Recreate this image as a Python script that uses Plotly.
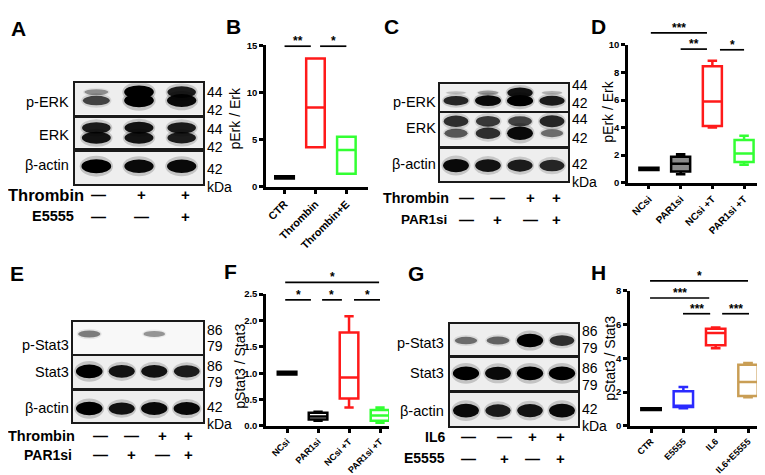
import plotly.graph_objects as go

W, H = 765, 475
FONT = "Arial, Liberation Sans, Helvetica, sans-serif"

# ------------------------------------------------------------------ data
B_cats = ["CTR", "Thrombin", "Thrombin+E"]
B_lower = [0.88, 4.2, 1.4]
B_q1 = [0.88, 4.2, 1.4]
B_median = [1.0, 8.4, 3.9]
B_q3 = [1.12, 13.6, 5.3]
B_upper = [1.12, 13.6, 5.3]

D_cats = ["NCsi", "PAR1si", "NCsi +T", "PAR1si +T"]
D_lower = [0.92, 0.62, 4.0, 1.3]
D_q1 = [0.92, 0.82, 4.12, 1.5]
D_median = [1.0, 1.38, 5.9, 2.12]
D_q3 = [1.08, 1.88, 8.45, 3.1]
D_upper = [1.08, 2.07, 8.85, 3.4]

F_cats = ["NCsi", "PAR1si", "NCsi +T", "PAR1si +T"]
F_lower = [0.975, 0.1, 0.35, 0.06]
F_q1 = [0.975, 0.12, 0.52, 0.1]
F_median = [1.0, 0.18, 0.92, 0.2]
F_q3 = [1.025, 0.25, 1.77, 0.3]
F_upper = [1.025, 0.27, 2.08, 0.35]

H_cats = ["CTR", "E5555", "IL6", "IL6+E5555"]
H_lower = [0.95, 1.05, 4.6, 1.7]
H_q1 = [0.95, 1.12, 4.78, 1.77]
H_median = [1.0, 1.2, 5.5, 2.6]
H_q3 = [1.05, 2.05, 5.75, 3.62]
H_upper = [1.05, 2.3, 5.82, 3.72]

# significance brackets: (from, to, height, label)
B_sig = [(0.0, 0.85, 14.9, "**"), (1.15, 2.0, 14.9, "*")]
D_sig = [(0.06, 1.83, 10.88, "***"), (1.0, 1.83, 9.7, "**"), (2.24, 3.0, 9.65, "*")]
F_sig = [(-0.06, 2.97, 2.72, "*"), (-0.06, 0.77, 2.39, "*"),
         (1.13, 1.77, 2.39, "*"), (2.16, 3.0, 2.39, "*")]
H_sig = [(-0.03, 3.0, 8.58, "*"), (-0.03, 1.8, 7.57, "***"),
         (0.99, 1.83, 6.64, "***"), (2.2, 3.03, 6.64, "***")]

# western blot band intensities (0 = none, 1 = saturated), per lane
A_pERK_44 = [0.3, 1.0, 0.85]
A_pERK_42 = [0.65, 1.0, 0.95]
A_ERK_44 = [0.85, 0.9, 0.85]
A_ERK_42 = [0.9, 0.9, 0.85]
A_actin = [1.0, 0.95, 0.95]
C_pERK_44 = [0.1, 0.25, 0.9, 0.15]
C_pERK_42 = [0.8, 0.95, 1.0, 0.85]
C_ERK_44 = [0.75, 0.7, 0.65, 0.8]
C_ERK_42 = [0.55, 0.75, 0.95, 0.45]
C_actin = [0.95, 0.9, 0.85, 0.8]
E_pStat3 = [0.4, 0.0, 0.3, 0.0]
E_Stat3 = [1.0, 0.9, 0.9, 0.85]
E_actin = [1.0, 0.9, 0.95, 0.95]
G_pStat3 = [0.45, 0.5, 1.0, 0.75]
G_Stat3 = [1.0, 0.95, 1.0, 1.0]
G_actin = [0.95, 0.85, 0.9, 0.95]

A_thrombin = ["—", "+", "+"]
A_e5555 = ["—", "—", "+"]
C_thrombin = ["—", "—", "+", "+"]
C_par1si = ["—", "+", "—", "+"]
E_thrombin = ["—", "—", "+", "+"]
E_par1si = ["—", "+", "—", "+"]
G_il6 = ["—", "—", "+", "+"]
G_e5555 = ["—", "+", "—", "+"]

# ------------------------------------------------------------------ helpers
def PX(x):
    return x / W


def PY(y):
    return 1 - y / H


fig = go.Figure()
annotations = []
shapes = []
layout_axes = {}


def ann(text, x, y, size=13.5, bold=False, xanchor="center", yanchor="middle", angle=0):
    annotations.append(dict(
        text=text, x=PX(x), y=PY(y), xref="paper", yref="paper",
        showarrow=False, xanchor=xanchor, yanchor=yanchor, textangle=angle,
        font=dict(family=FONT, size=size, color="black",
                  weight="bold" if bold else "normal")))


def ax_id(n):
    return "" if n == 1 else str(n)


# ------------------------------------------------------------------ box panels
def box_panel(n, cats, lower, q1, med, q3, upper, colors, fills, sig,
              xpx, ypx, xrange, yrange, yticks, ytickfmt, ytitle, ytitle_pos, xfont):
    xa, ya = "x" + ax_id(n), "y" + ax_id(n)
    for i in range(len(cats)):
        fig.add_trace(go.Box(
            x=[i], q1=[q1[i]], median=[med[i]], q3=[q3[i]],
            lowerfence=[lower[i]], upperfence=[upper[i]],
            width=0.6, whiskerwidth=0.5, boxpoints=False,
            line=dict(color=colors[i], width=2.5), fillcolor=fills[i],
            xaxis=xa, yaxis=ya, showlegend=False, hoverinfo="skip"))

    def fx(v):  # data -> axis-domain fraction (drawn unclipped)
        return (v - xrange[0]) / (xrange[1] - xrange[0])

    def fy(v):
        return (v - yrange[0]) / (yrange[1] - yrange[0])

    for (x0, x1, yv, lab) in sig:
        shapes.append(dict(type="line", xref=xa + " domain", yref=ya + " domain",
                           x0=fx(x0), x1=fx(x1), y0=fy(yv), y1=fy(yv),
                           line=dict(color="black", width=1.7)))
        annotations.append(dict(
            text=lab, x=fx((x0 + x1) / 2), y=fy(yv),
            xref=xa + " domain", yref=ya + " domain", showarrow=False,
            xanchor="center", yanchor="bottom", yshift=-4,
            font=dict(family=FONT, size=12, color="black", weight="bold")))
    layout_axes["xaxis" + ax_id(n)] = dict(
        domain=[PX(xpx[0]), PX(xpx[1])], range=xrange, anchor=ya,
        showline=True, linecolor="black", linewidth=2.5,
        ticks="outside", ticklen=4, tickwidth=2.5, tickcolor="black",
        tickvals=list(range(len(cats))), ticktext=cats, tickangle=-45,
        tickfont=dict(family=FONT, size=xfont, color="black", weight="bold"),
        showgrid=False, zeroline=False, fixedrange=True)
    layout_axes["yaxis" + ax_id(n)] = dict(
        domain=[PY(ypx[0]), PY(ypx[1])], range=yrange, anchor=xa,
        showline=True, linecolor="black", linewidth=2.5,
        ticks="outside", ticklen=4, tickwidth=2.5, tickcolor="black",
        tickvals=yticks, tickformat=ytickfmt,
        tickfont=dict(family=FONT, size=9.5, color="black", weight="bold"),
        showgrid=False, zeroline=False, fixedrange=True)
    ann(ytitle, ytitle_pos[0], ytitle_pos[1], size=14, angle=-90)


RED, GREEN, BLUE, TAN = "#FF1A1A", "#33FF33", "#2A2AFF", "#C99E55"

box_panel(1, B_cats, B_lower, B_q1, B_median, B_q3, B_upper,
          ["black", RED, GREEN], ["black", "white", "white"], B_sig,
          (258, 360), (177, 32), [-0.6, 2.7], [0, 15], [0, 5, 10, 15], "d",
          "pErk / Erk", (227, 107), 10.8)
box_panel(2, D_cats, D_lower, D_q1, D_median, D_q3, D_upper,
          ["black", "black", RED, GREEN], ["black", "#8a8a8a", "white", "white"], D_sig,
          (620, 757), (172.7, 31.7), [-0.66, 3.66], [0, 10], [0, 2, 4, 6, 8, 10], "d",
          "pErk / Erk", (600, 100), 10)
box_panel(3, F_cats, F_lower, F_q1, F_median, F_q3, F_upper,
          ["black", "black", RED, GREEN], ["black", "white", "white", "white"], F_sig,
          (258, 381), (421.7, 286.7), [-0.68, 3.29], [0, 2.5], [0, 0.5, 1, 1.5, 2, 2.5], ".1f",
          "pStat3 / Stat3", (232, 360), 9.1)
box_panel(4, H_cats, H_lower, H_q1, H_median, H_q3, H_upper,
          ["black", BLUE, RED, TAN], ["black", "white", "white", "white"], H_sig,
          (622, 762), (421.7, 283.3), [-0.65, 3.68], [0, 8], [0, 2, 4, 6, 8], "d",
          "pStat3 / Stat3", (602, 353), 9.1)

# ------------------------------------------------------------------ blots
strip_n = [5]


def strip(xpx, ypx, rows, tone="#eeeeee"):
    """rows: list of (vertical position in strip 0..1, intensities per lane)"""
    n = strip_n[0]
    strip_n[0] += 1
    xa, ya = "x" + str(n), "y" + str(n)
    nl = len(rows[0][1])
    layout_axes["xaxis" + str(n)] = dict(
        domain=[PX(xpx[0]), PX(xpx[1])], range=[0.5, nl + 0.5], anchor=ya,
        showline=True, mirror=True, linecolor="#1a1a1a", linewidth=1.5,
        showticklabels=False, ticks="", showgrid=False, zeroline=False, fixedrange=True)
    layout_axes["yaxis" + str(n)] = dict(
        domain=[PY(ypx[1]), PY(ypx[0])], range=[0, 1], anchor=xa,
        showline=True, mirror=True, linecolor="#1a1a1a", linewidth=1.5,
        showticklabels=False, ticks="", showgrid=False, zeroline=False, fixedrange=True)
    fig.add_trace(go.Scatter(x=[], y=[], xaxis=xa, yaxis=ya, showlegend=False))
    shapes.append(dict(type="rect", xref=xa + " domain", yref=ya + " domain",
                       x0=0, x1=1, y0=0, y1=1, fillcolor=tone,
                       line=dict(width=0), layer="below"))
    wscale = 1.0 if nl == 4 else 0.85
    for (yc, vals) in rows:
        for i, v in enumerate(vals):
            if v <= 0:
                continue
            lane = i + 1
            w = (0.6 + 0.22 * v) * wscale
            h = 0.08 + 0.35 * v
            # soft halo
            shapes.append(dict(type="circle", xref=xa, yref=ya,
                               x0=lane - w * 0.56, x1=lane + w * 0.56,
                               y0=yc - h * 0.75, y1=yc + h * 0.75,
                               fillcolor="black", opacity=0.18 * v,
                               line=dict(width=0), layer="above"))
            shapes.append(dict(type="circle", xref=xa, yref=ya,
                               x0=lane - w / 2, x1=lane + w / 2,
                               y0=yc - h / 2, y1=yc + h / 2,
                               fillcolor="black", opacity=min(1.0, 0.9 * v + 0.1),
                               line=dict(width=0), layer="above"))


# A
strip((67, 195), (71, 103), [(0.72, A_pERK_44), (0.45, A_pERK_42)])
strip((67, 195), (106, 137), [(0.66, A_ERK_44), (0.33, A_ERK_42)])
strip((67, 195), (141, 174), [(0.55, A_actin)])
# C
strip((432, 560), (72, 99), [(0.68, C_pERK_44), (0.38, C_pERK_42)])
strip((432, 560), (101, 135), [(0.74, C_ERK_44), (0.38, C_ERK_42)])
strip((432, 560), (138, 171), [(0.48, C_actin)])
# E
strip((65, 195), (315, 348), [(0.62, E_pStat3)], tone="#f8f8f8")
strip((65, 195), (350, 383), [(0.52, E_Stat3)])
strip((65, 195), (386, 418), [(0.44, E_actin)])
# G
strip((442, 570), (317, 349), [(0.46, G_pStat3)])
strip((442, 570), (352, 385), [(0.52, G_Stat3)])
strip((442, 570), (388, 422), [(0.47, G_actin)])

# ------------------------------------------------------------------ blot text
for t, y in [("p-ERK", 90), ("ERK", 124), ("β-actin", 155)]:
    ann(t, 63, y, size=14.5, xanchor="right")
for t, y in [("p-ERK", 90), ("ERK", 117), ("β-actin", 154)]:
    ann(t, 430, y, size=14.5, xanchor="right")
for t, y in [("p-Stat3", 339), ("Stat3", 366), ("β-actin", 403)]:
    ann(t, 63, y, size=14.5, xanchor="right")
for t, y in [("p-Stat3", 337), ("Stat3", 368), ("β-actin", 406)]:
    ann(t, 438, y, size=14.5, xanchor="right")

for x0, items in [(197, [("44", 80), ("42", 98), ("44", 118), ("42", 136), ("42", 159), ("kDa", 177)]),
                  (562, [("44", 73), ("42", 91), ("44", 108), ("42", 127), ("42", 154), ("kDa", 172)]),
                  (197, [("86", 323), ("79", 340), ("86", 360), ("79", 377), ("42", 402), ("kDa", 420)]),
                  (572, [("86", 325), ("79", 342), ("86", 362), ("79", 380), ("42", 404), ("kDa", 422)])]:
    for t, y in items:
        ann(t, x0, y, size=14, xanchor="left")

treat = [
    ("Thrombin", 78, 185, 16.5, [90, 133, 177], A_thrombin),
    ("E5555", 68, 207, 14.5, [90, 133, 177], A_e5555),
    ("Thrombin", 443, 188, 14.3, [458, 490, 522, 548], C_thrombin),
    ("PAR1si", 441, 210, 13.5, [458, 490, 522, 548], C_par1si),
    ("Thrombin", 69, 432, 14.5, [92, 123, 154, 180], E_thrombin),
    ("PAR1si", 66, 451, 14, [92, 123, 154, 180], E_par1si),
    ("IL6", 439, 433, 14, [460, 496, 524, 552], G_il6),
    ("E5555", 439, 455, 14, [460, 496, 524, 552], G_e5555),
]
for name, xr, y, sz, xs, signs in treat:
    ann(name, xr, y, size=sz, bold=True, xanchor="right")
    for xs_i, s in zip(xs, signs):
        ann(s, xs_i, y, size=15, bold=True)

# panel letters
for t, x, y in [("A", 10.5, 15), ("B", 225, 13), ("C", 383, 13), ("D", 590, 13),
                ("E", 8.5, 266), ("F", 222, 264), ("G", 408, 266), ("H", 590, 265)]:
    ann(t, x, y, size=21, bold=True)

fig.update_layout(
    width=W, height=H, margin=dict(l=0, r=0, t=0, b=0),
    paper_bgcolor="white", plot_bgcolor="white", boxmode="overlay",
    showlegend=False, annotations=annotations, shapes=shapes,
    font=dict(family=FONT, color="black"),
    **layout_axes)

fig.write_html("out.html")
